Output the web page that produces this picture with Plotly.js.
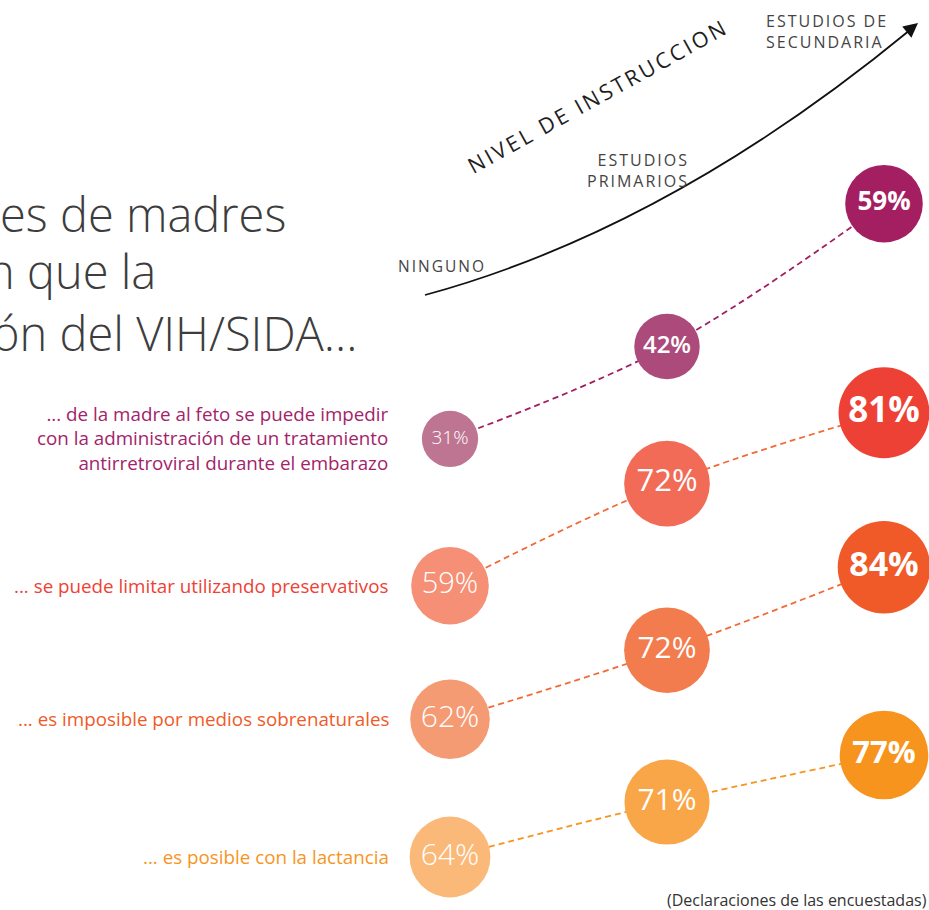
<!DOCTYPE html>
<html>
<head>
<meta charset="utf-8">
<script src="https://cdn.plot.ly/plotly-3.0.1.min.js"></script>
<style>html,body{margin:0;padding:0;background:#fff;}#chart{width:929px;height:910px;}</style>
</head>
<body>
<div id="chart"></div>
<script>
// ---- data ----
const levels = ['Ninguno', 'Estudios primarios', 'Estudios de secundaria'];
const levelLabels = ['NINGUNO', 'ESTUDIOS<br>PRIMARIOS', 'ESTUDIOS DE<br>SECUNDARIA'];
const statements = [
  '... de la madre al feto se puede impedir<br>con la administración de un tratamiento<br>antirretroviral durante el embarazo',
  '... se puede limitar utilizando preservativos',
  '... es imposible por medios sobrenaturales',
  '... es posible con la lactancia'
];
const madreFeto = [31, 42, 59];
const preservativos = [59, 72, 81];
const sobrenaturales = [62, 72, 84];
const lactancia = [64, 71, 77];
const titleLines = ['es de madres', 'n que la', 'ón del VIH/SIDA...'];
const axisTitle = 'NIVEL DE INSTRUCCION';
const footnote = '(Declaraciones de las encuestadas)';

// ---- styles ----
const W = 929, H = 910;
const px = x => x / W, py = y => 1 - y / H;
const FONT = '"Open Sans", sans-serif';
const series = [madreFeto, preservativos, sobrenaturales, lactancia];
const circleColors = [
  ['#bd7592', '#ac4b7b', '#a31f62'],
  ['#f58f76', '#f16b57', '#ee4136'],
  ['#f59b74', '#f27c4d', '#f05a29'],
  ['#fab978', '#f9a648', '#f7941d']
];
const lineColors = ['#a31f62', '#f26a36', '#f26a36', '#f7941d'];
const labelColors = ['#a3236a', '#ee4136', '#f05a28', '#f7941d'];
const textSizes = [[19, 24, 26], [29, 31, 35], [30, 30, 34], [30, 30, 31]];
const textWeights = [[300, 600, 700], [300, 500, 700], [300, 500, 700], [300, 500, 700]];
const yRanges = [[-25.08, 83.25], [17.75, 133.52], [34.41, 166.1], [57.25, 173.17]];

const traces = [];
series.forEach((vals, i) => {
  const ya = i === 0 ? 'y' : 'y' + (i + 1);
  traces.push({
    x: levels, y: vals, xaxis: 'x', yaxis: ya, type: 'scatter', mode: 'lines',
    line: {color: lineColors[i], width: 1.8, dash: '6px,4px', shape: 'spline', smoothing: 1},
    hoverinfo: 'skip', showlegend: false, cliponaxis: false
  });
  traces.push({
    x: levels, y: vals, xaxis: 'x', yaxis: ya, type: 'scatter', mode: 'markers+text',
    text: vals.map(v => v + '%'), textposition: 'middle center',
    textfont: {family: FONT, color: '#ffffff', size: textSizes[i], weight: textWeights[i]},
    marker: {size: vals, sizemode: 'area', sizeref: 0.0196, color: circleColors[i], line: {width: 0}, opacity: 1},
    hoverinfo: 'skip', showlegend: false, cliponaxis: false
  });
});

const annotations = [];
// title lines (cropped on the left in the original)
const titleEnds = [288, 158, 359];
const titleYs = [214, 271, 333];
titleLines.forEach((t, i) => annotations.push({
  text: t, xref: 'paper', yref: 'paper', x: px(titleEnds[i]), y: py(titleYs[i]),
  xanchor: 'right', yanchor: 'middle', showarrow: false,
  font: {family: FONT, size: 47, color: '#3d3d3d', weight: 300}
}));
// statement labels
series.forEach((vals, i) => annotations.push({
  text: statements[i], xref: 'paper', yref: i === 0 ? 'y' : 'y' + (i + 1),
  x: px(391), y: vals[0], xanchor: 'right', yanchor: 'middle', align: 'right', showarrow: false,
  font: {family: FONT, size: 18.8, color: labelColors[i]}
}));
// level labels
const sp = t => '<span style="letter-spacing:2px">' + t + '</span>';
annotations.push({text: sp(levelLabels[0]), xref: 'paper', yref: 'paper', x: px(396), y: py(266),
  xanchor: 'left', yanchor: 'middle', showarrow: false, font: {family: FONT, size: 15.5, color: '#444'}});
annotations.push({text: sp(levelLabels[1]), xref: 'paper', yref: 'paper', x: px(691), y: py(170),
  xanchor: 'right', yanchor: 'middle', align: 'right', showarrow: false, font: {family: FONT, size: 16, color: '#444'}});
annotations.push({text: sp(levelLabels[2]), xref: 'paper', yref: 'paper', x: px(890), y: py(32),
  xanchor: 'right', yanchor: 'middle', align: 'left', showarrow: false, font: {family: FONT, size: 16, color: '#444'}});
// axis title along arrow
annotations.push({text: '<span style="letter-spacing:2.8px">' + axisTitle + '</span>', xref: 'paper', yref: 'paper',
  x: px(598), y: py(96), xanchor: 'center', yanchor: 'middle', textangle: -29, showarrow: false,
  font: {family: FONT, size: 21.5, color: '#1e1e1e'}});
// arrowhead
annotations.push({text: '', xref: 'paper', yref: 'paper', x: px(918), y: py(23), ax: -11, ay: 9,
  showarrow: true, arrowhead: 2, arrowsize: 1.7, arrowwidth: 1.7, arrowcolor: '#111', standoff: 0});
// footnote
annotations.push({text: footnote, xref: 'paper', yref: 'paper', x: px(929), y: py(900),
  xanchor: 'right', yanchor: 'middle', showarrow: false, font: {family: FONT, size: 16, color: '#333'}});

const hidden = {visible: false, showgrid: false, zeroline: false, fixedrange: true};
const layout = {
  width: W, height: H, margin: {l: 0, r: 0, t: 0, b: 0, pad: 0},
  paper_bgcolor: '#fff', plot_bgcolor: '#fff', showlegend: false,
  xaxis: Object.assign({}, hidden, {type: 'category', range: [-450 / 217, (W - 450) / 217], domain: [0, 1]}),
  yaxis: Object.assign({}, hidden, {range: yRanges[0], domain: [0, 1]}),
  yaxis2: Object.assign({}, hidden, {range: yRanges[1], overlaying: 'y'}),
  yaxis3: Object.assign({}, hidden, {range: yRanges[2], overlaying: 'y'}),
  yaxis4: Object.assign({}, hidden, {range: yRanges[3], overlaying: 'y'}),
  shapes: [{
    type: 'path', xref: 'paper', yref: 'paper',
    path: `M ${px(425)},${py(295)} Q ${px(668)},${py(229)} ${px(910)},${py(30)}`,
    line: {color: '#111', width: 1.8}
  }],
  annotations: annotations
};
Plotly.newPlot('chart', traces, layout, {staticPlot: true, displayModeBar: false});
</script>
</body>
</html>
